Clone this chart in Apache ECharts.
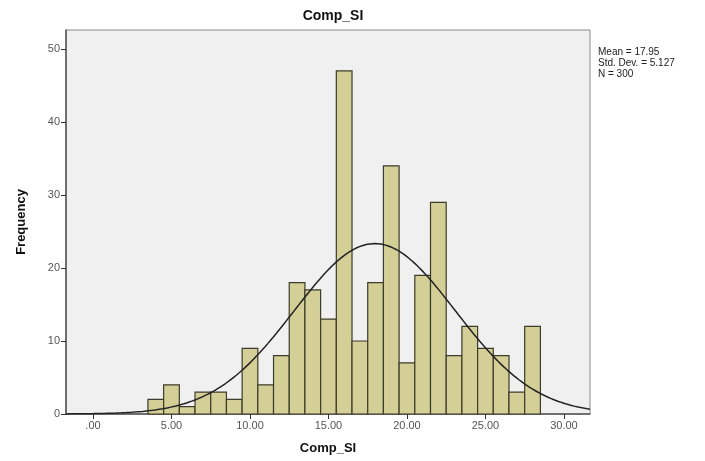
<!DOCTYPE html>
<html>
<head>
<meta charset="utf-8">
<script src="https://cdn.jsdelivr.net/npm/echarts@6/dist/echarts.min.js"></script>
<style>
  html, body {margin: 0; padding: 0; background: #fff;}
  #chart {width: 705px; height: 461px;}
</style>
</head>
<body>
<div id="chart"></div>
<script>
// histogram bins (centres, width 1) and counts
var binCenters = [4, 5, 6, 7, 8, 9, 10, 11, 12, 13, 14, 15, 16, 17, 18, 19, 20, 21, 22, 23, 24, 25, 26, 27, 28];
var counts = [2, 4, 1, 3, 3, 2, 9, 4, 8, 18, 17, 13, 47, 10, 18, 34, 7, 19, 29, 8, 12, 9, 8, 3, 12];
var xTicks = [0, 5, 10, 15, 20, 25, 30];
var yTicks = [0, 10, 20, 30, 40, 50];
var MEAN = 17.95, SD = 5.127, N = 300, BIN = 1;
var X_MIN = -1.72, X_MAX = 31.66, Y_MAX = 52.6;

var bars = binCenters.map(function (c, i) { return [c, counts[i]]; });

// fitted normal curve (SPSS overlay) from the stated mean / sd
var curve = [];
for (var k = 0; k <= 200; k++) {
  var x = X_MIN + (X_MAX - X_MIN) * k / 200;
  var z = (x - MEAN) / SD;
  curve.push([x, N * BIN / (SD * Math.sqrt(2 * Math.PI)) * Math.exp(-0.5 * z * z)]);
}

var chart = echarts.init(document.getElementById('chart'));
var font = 'Arial, "Liberation Sans", sans-serif';

chart.setOption({
  animation: false,
  title: {
    text: 'Comp_SI',
    left: 328, top: 4, textAlign: 'center',
    textStyle: {fontFamily: font, fontSize: 14, fontWeight: 'bold', color: '#111'}
  },
  grid: {
    left: 66, right: 115, top: 30, bottom: 47,
    show: true, backgroundColor: '#f0f0f0', borderColor: '#8a8a8a', borderWidth: 1
  },
  xAxis: {
    type: 'value', min: X_MIN, max: X_MAX,
    name: 'Comp_SI', nameLocation: 'middle', nameGap: 28,
    nameTextStyle: {fontFamily: font, fontSize: 13, fontWeight: 'bold', color: '#111'},
    axisLine: {show: true, onZero: false, lineStyle: {color: '#555', width: 1.5}},
    axisTick: {show: true, length: 5, customValues: xTicks, lineStyle: {color: '#333'}},
    axisLabel: {
      customValues: xTicks, margin: 6, color: '#555', fontFamily: font, fontSize: 11,
      formatter: function (v) { return v === 0 ? '.00' : v.toFixed(2); }
    },
    splitLine: {show: false}
  },
  yAxis: {
    type: 'value', min: 0, max: Y_MAX,
    name: 'Frequency', nameLocation: 'middle', nameGap: 38,
    nameTextStyle: {fontFamily: font, fontSize: 13, fontWeight: 'bold', color: '#111'},
    axisLine: {show: true, onZero: false, lineStyle: {color: '#555', width: 1.5}},
    axisTick: {show: true, length: 5, customValues: yTicks, lineStyle: {color: '#333'}},
    axisLabel: {customValues: yTicks, margin: 6, color: '#555', fontFamily: font, fontSize: 11},
    splitLine: {show: false}
  },
  graphic: [{
    type: 'text', left: 598, top: 47,
    style: {
      text: 'Mean = ' + MEAN.toFixed(2) + '\nStd. Dev. = ' + SD.toFixed(3) + '\nN = ' + N,
      font: '10px ' + font, fill: '#222', lineHeight: 11
    }
  }],
  series: [{
    type: 'custom',
    data: bars,
    renderItem: function (params, api) {
      var c = api.value(0), v = api.value(1);
      var p0 = api.coord([c - BIN / 2, v]);
      var p1 = api.coord([c + BIN / 2, 0]);
      return {
        type: 'rect',
        shape: {x: p0[0], y: p0[1], width: p1[0] - p0[0], height: p1[1] - p0[1]},
        style: {fill: '#d4cf97', stroke: '#3d3b2a', lineWidth: 1.2}
      };
    },
    z: 2
  }, {
    type: 'line',
    data: curve,
    showSymbol: false,
    smooth: false,
    lineStyle: {color: '#222', width: 1.5},
    z: 3
  }]
});
</script>
</body>
</html>
